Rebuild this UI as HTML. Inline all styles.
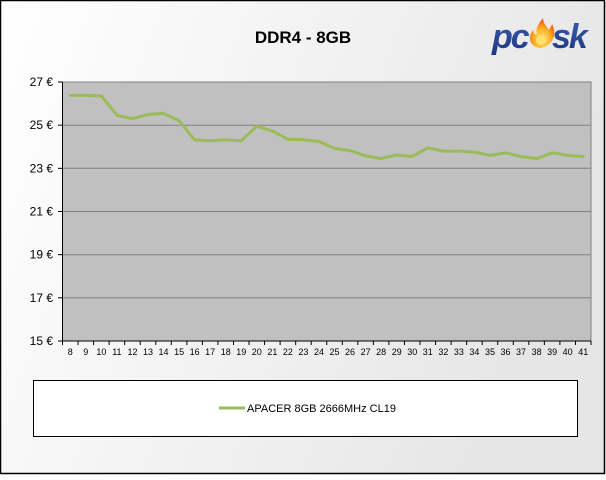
<!DOCTYPE html>
<html><head><meta charset="utf-8"><style>
html,body{margin:0;padding:0;}
body{width:606px;height:475px;overflow:hidden;}
</style></head><body>
<svg width="606" height="475" xmlns="http://www.w3.org/2000/svg" font-family="Liberation Sans, Arial, sans-serif">
<defs>
<linearGradient id="bg" x1="0" y1="0" x2="1" y2="0.3">
<stop offset="0" stop-color="#ffffff"/><stop offset="1" stop-color="#e6e6e6"/>
</linearGradient>
<linearGradient id="lg" x1="0" y1="0" x2="0" y2="1">
<stop offset="0" stop-color="#3a5cb0"/><stop offset="1" stop-color="#1c3580"/>
</linearGradient>
<radialGradient id="fl" cx="0.5" cy="0.7" r="0.6">
<stop offset="0" stop-color="#ffe680"/><stop offset="0.6" stop-color="#ffb020"/><stop offset="1" stop-color="#f06010"/>
</radialGradient>
</defs>
<rect x="0.5" y="0.5" width="604" height="473" fill="url(#bg)" stroke="#000" stroke-width="1.5"/>
<text x="303" y="43" text-anchor="middle" font-size="17" font-weight="bold">DDR4 - 8GB</text>
<!-- logo -->
<g>
<text x="492" y="48" font-size="34" font-weight="bold" font-style="italic" fill="url(#lg)" letter-spacing="-2">pc</text>
<path d="M541 48 C530 47 527 38 533 30 C534 34 536 35 537 34 C535 28 540 22 543 18 C543 24 547 26 549 30 C550 27 552 26 552 24 C556 31 556 44 541 48 Z" fill="url(#fl)"/>
<circle cx="541" cy="40" r="5" fill="#ffe070"/>
<text x="552" y="48" font-size="34" font-weight="bold" font-style="italic" fill="url(#lg)" letter-spacing="-2">sk</text>
</g>
<!-- plot -->
<rect x="62.5" y="82" width="528.5" height="259" fill="#c0c0c0" stroke="#808080" stroke-width="1"/>
<g stroke="#808080" stroke-width="1">
<line x1="62.5" y1="125.2" x2="591" y2="125.2"/>
<line x1="62.5" y1="168.3" x2="591" y2="168.3"/>
<line x1="62.5" y1="211.5" x2="591" y2="211.5"/>
<line x1="62.5" y1="254.7" x2="591" y2="254.7"/>
<line x1="62.5" y1="297.8" x2="591" y2="297.8"/>
</g>
<line x1="62.5" y1="82" x2="62.5" y2="341" stroke="#000" stroke-width="1"/>
<line x1="62.5" y1="341" x2="591" y2="341" stroke="#000" stroke-width="1"/>
<g id="yt" font-size="12" text-anchor="end"></g>
<g id="xt" font-size="9" text-anchor="middle"></g>
<g id="ticks" stroke="#000" stroke-width="1"></g>
<polyline id="ln" fill="none" stroke="#9bbb59" stroke-width="3" stroke-linejoin="round" stroke-linecap="round"/>
<!-- legend -->
<rect x="33.5" y="380.5" width="544" height="56" fill="#fff" stroke="#000" stroke-width="1"/>
<line x1="219" y1="408" x2="245" y2="408" stroke="#9bbb59" stroke-width="3"/>
<text x="247" y="412" font-size="11">APACER 8GB 2666MHz CL19</text>
</svg>
<script>
var ns="http://www.w3.org/2000/svg";
function el(t,a,p,txt){var e=document.createElementNS(ns,t);for(var k in a)e.setAttribute(k,a[k]);if(txt!==undefined)e.textContent=txt;document.getElementById(p).appendChild(e);}
function Y(v){return 82+(27-v)*21.583;}
for(var v=15;v<=27;v+=2){var y=Y(v);el('text',{x:53,y:y+4},'yt',v+' \u20ac');el('line',{x1:58,y1:y,x2:62.5,y2:y},'ticks');}
var d=[26.38,26.38,26.35,25.46,25.30,25.5,25.55,25.2,24.32,24.28,24.32,24.28,24.95,24.73,24.35,24.32,24.25,23.92,23.82,23.58,23.45,23.62,23.55,23.95,23.8,23.8,23.75,23.6,23.72,23.55,23.45,23.72,23.6,23.55];
var w=528.5/34,pts=[];
for(var i=0;i<34;i++){var x=62.5+w*(i+0.5);pts.push(x.toFixed(1)+','+Y(d[i]).toFixed(1));el('text',{x:x,y:355},'xt',String(8+i));el('line',{x1:62.5+w*(i+1),y1:341,x2:62.5+w*(i+1),y2:345},'ticks');}
el('line',{x1:62.5,y1:341,x2:62.5,y2:345},'ticks');
document.getElementById('ln').setAttribute('points',pts.join(' '));
</script>
</body></html>
